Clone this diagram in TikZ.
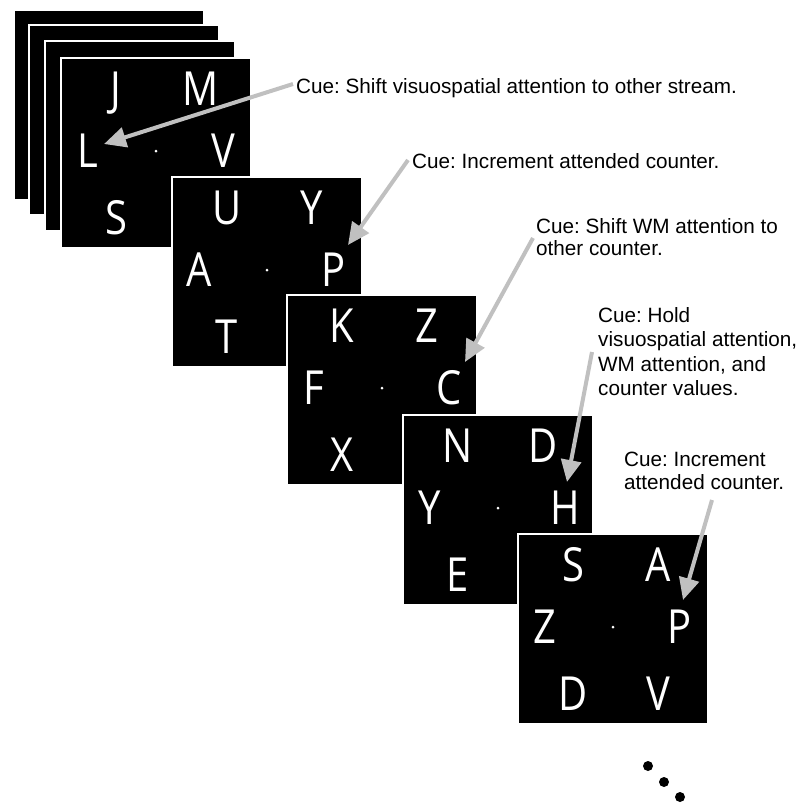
\documentclass[tikz,border=0pt]{standalone}
\usepackage{fontspec}
\setmainfont{Liberation Sans}
\newfontfamily\letterfont[FakeStretch=0.85]{Open Sans}
\usetikzlibrary{arrows.meta}
\definecolor{cuegray}{RGB}{192,192,192}
\frenchspacing
\newcommand\drawpanel[7]{%
\begin{scope}[shift={(#2,#3)}]
 \node[panel] (#1) at (0,0) {};
 \node[fixdot] (#1fix) at (96,94) {};
 \node[letter] (#1tl) at (56,48) {#4};
 \node[letter] (#1tr) at (141,48) {#5};
 \node[letter] (#1ml) at (28,110) {#6};
 \node[letter] (#1mr) at (163,110) {#7};
\end{scope}}
\begin{document}
\begin{tikzpicture}[x=1pt,y=-1pt,
 panel/.style={rectangle,draw=white,line width=1.5pt,fill=black,minimum size=190pt,inner sep=0pt,anchor=north west},
 letter/.style={text=white,font=\letterfont\fontsize{47}{47}\selectfont,inner sep=0pt,anchor=base},
 fixdot/.style={circle,fill=white,inner sep=0pt,minimum size=3pt},
 cue/.style={font=\fontsize{20.7}{24}\selectfont,inner sep=0pt,anchor=north west,align=left},
 cuearrow/.style={draw=cuegray,line width=4pt,-{Triangle[length=22pt,width=20pt]}},
 ellip/.style={circle,fill=black,inner sep=0pt,minimum size=10pt}]
\useasboundingbox (0,0) rectangle (797,804);
% stacked back panels
\node[panel] (back1) at (13,9) {};
\node[panel] (back2) at (28,24) {};
\node[panel] (back3) at (44,40) {};
% panel 1
\drawpanel{pa}{60}{57}{J}{M}{L}{V}
\begin{scope}[shift={(60,57)}]\node[letter] (pabl) at (56,177) {S};\end{scope}
% panel 2
\drawpanel{pb}{171}{176}{U}{Y}{A}{P}
\begin{scope}[shift={(171,176)}]\node[letter] (pbbl) at (56,177) {T};\end{scope}
% panel 3
\drawpanel{pc}{286}{294}{K}{Z}{F}{C}
\begin{scope}[shift={(286,294)}]\node[letter] (pcbl) at (56,177) {X};\end{scope}
% panel 4
\drawpanel{pd}{402}{414}{N}{D}{Y}{H}
\begin{scope}[shift={(402,414)}]\node[letter] (pdbl) at (56,177) {E};\end{scope}
% panel 5
\drawpanel{pe}{517}{533}{S}{A}{Z}{P}
\begin{scope}[shift={(517,533)}]
 \node[letter] (pebl) at (56,177) {D};
 \node[letter] (pebr) at (141,177) {V};
\end{scope}
% cue texts
\node[cue] (cue1) at (296,78) {Cue: Shift visuospatial attention to other stream.};
\node[cue] (cue2) at (412,153) {Cue: Increment attended counter.};
\node[cue,font=\fontsize{20.7}{22.5}\selectfont] (cue3) at (536,218) {Cue: Shift WM attention to\\other counter.};
\node[cue,font=\fontsize{20.7}{24.4}\selectfont] (cue4) at (598,307) {Cue: Hold\\visuospatial attention,\\WM attention, and\\counter values.};
\node[cue,font=\fontsize{20.7}{23.3}\selectfont] (cue5) at (624,452) {Cue: Increment\\attended counter.};
% arrow ends
\coordinate (a1s) at (293,84);  \coordinate (a1e) at (104,144);
\coordinate (a2s) at (408,160); \coordinate (a2e) at (348,245);
\coordinate (a3s) at (533,238); \coordinate (a3e) at (465,362);
\coordinate (a4s) at (592,352); \coordinate (a4e) at (567,482);
\coordinate (a5s) at (712,500); \coordinate (a5e) at (683,600);
\draw[cuearrow] (a1s) -- (a1e);
\draw[cuearrow] (a2s) -- (a2e);
\draw[cuearrow] (a3s) -- (a3e);
\draw[cuearrow] (a4s) -- (a4e);
\draw[cuearrow] (a5s) -- (a5e);
% ellipsis
\node[ellip] (e1) at (648,766) {};
\node[ellip] (e2) at (664,782) {};
\node[ellip] (e3) at (680,797) {};
\end{tikzpicture}
\end{document}
